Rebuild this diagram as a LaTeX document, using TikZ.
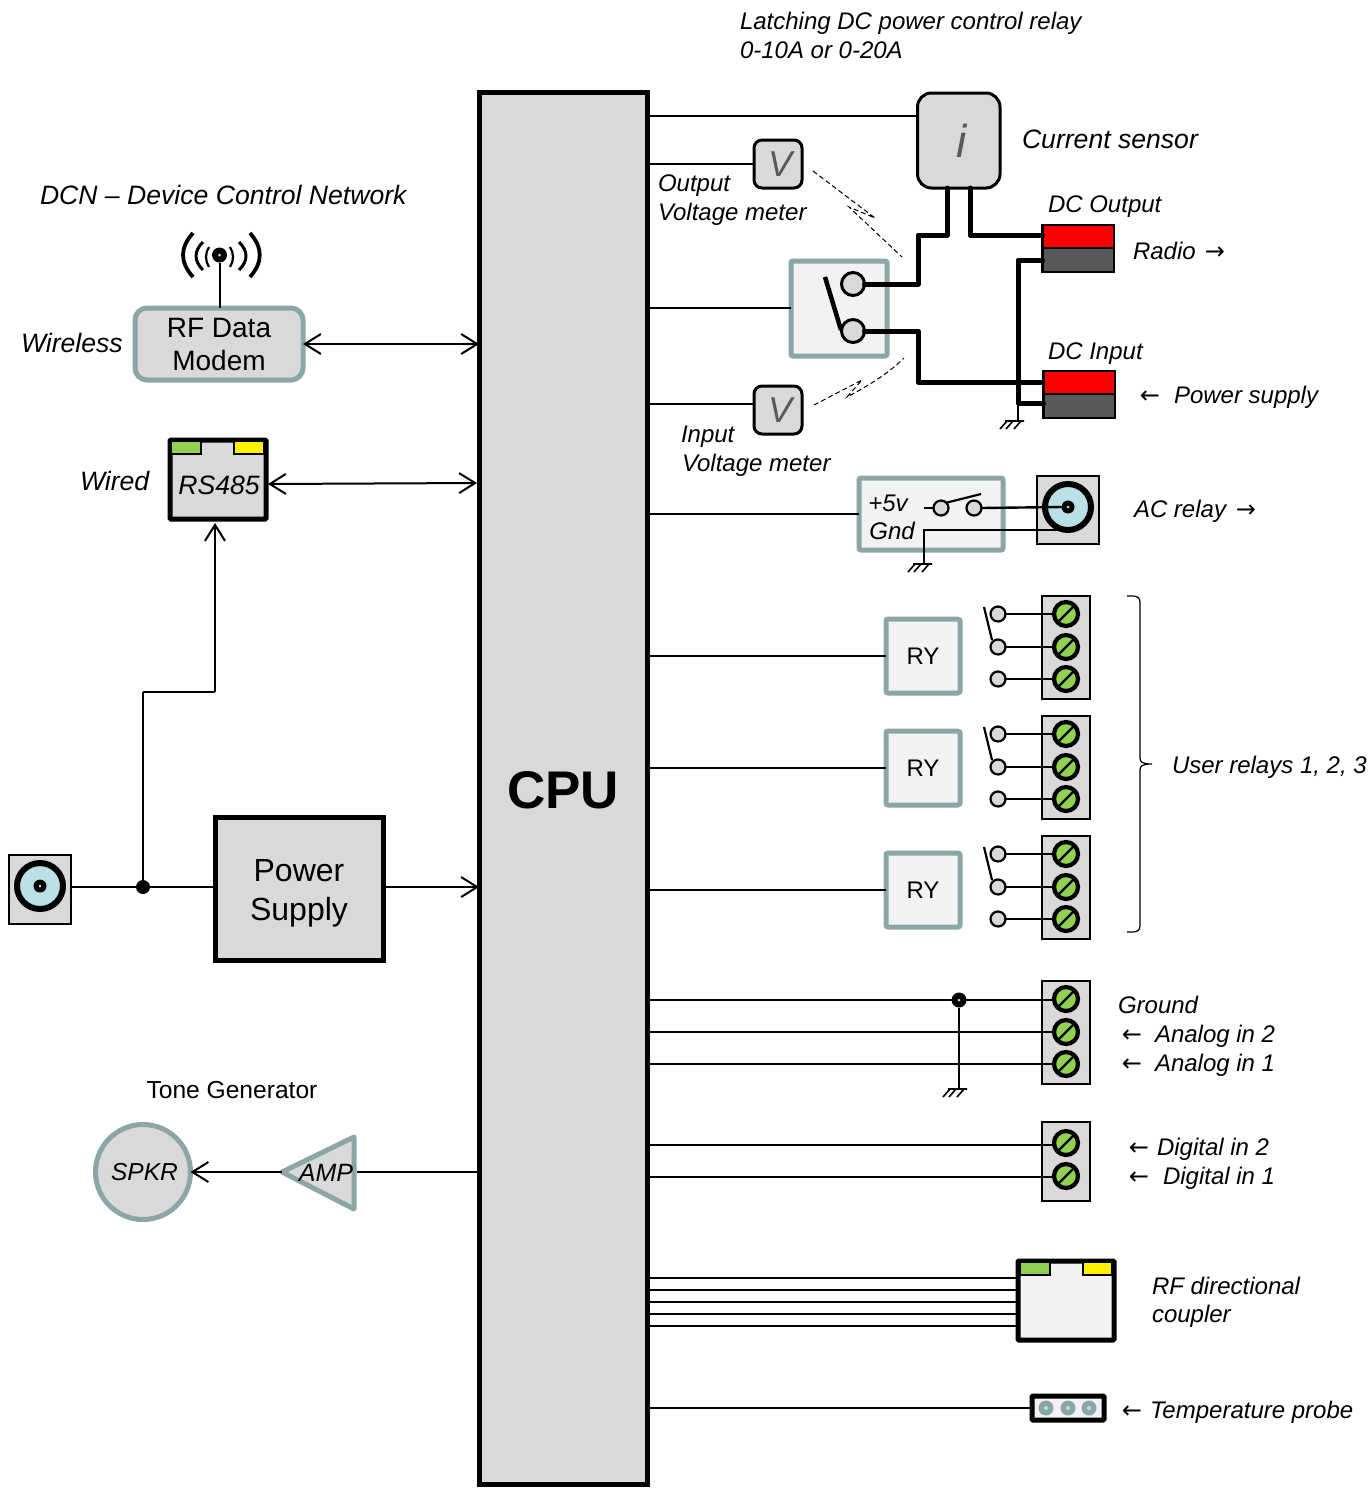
\documentclass[tikz,border=0pt]{standalone}
\usepackage{fontspec}
\setmainfont{Liberation Sans}
\newfontfamily\arrowfont{DejaVu Sans}
\usetikzlibrary{arrows.meta}
\definecolor{teal}{HTML}{8CA6A8}
\definecolor{lgray}{HTML}{F2F2F2}
\definecolor{mgray}{HTML}{D9D9D9}
\definecolor{dgray}{HTML}{595959}
\definecolor{lgreen}{HTML}{92D050}
\definecolor{lblue}{HTML}{B9E0E4}
\newcommand\fs[1]{\fontsize{#1}{#1}\selectfont}
\tikzset{
  every node/.style={inner sep=0pt,outer sep=0pt},
  wire/.style={line width=2pt,draw=black},
  fat/.style={line width=5pt,draw=black,line join=round,line cap=round},
  oarrow/.style={wire,-{Straight Barb[length=16pt,width=20pt,line width=2pt]}},
  biarrow/.style={wire,{Straight Barb[length=16pt,width=20pt,line width=2pt]}-{Straight Barb[length=16pt,width=20pt,line width=2pt]}},
  lab/.style={anchor=west,font=\fs{26.6}\itshape,text height=24pt,text depth=5pt},
  labs/.style={lab,font=\fs{24}\itshape,text height=22pt},
  glyph/.style={anchor=center,font=\fs{24}\arrowfont,text height=22pt,text depth=5pt},
  tealbox/.style={draw=teal,line width=5pt,fill=lgray,rounded corners=2pt},
  blackbox/.style={draw=black,line width=5pt,fill=mgray,rounded corners=1pt},
  thinbox/.style={draw=black,line width=2pt,fill=mgray},
  meter/.style={draw=black,line width=3pt,fill=mgray,rounded corners=8pt},
  screw/.style={circle,draw=black,line width=4.2pt,fill=lgreen,minimum size=24pt},
  contact/.style={circle,draw=black,line width=2.2pt,fill=mgray,minimum size=15pt},
  bigcontact/.style={circle,draw=black,line width=3pt,fill=mgray,minimum size=23pt},
  jack/.style={circle,draw=black,line width=6pt,fill=lblue,minimum size=46pt},
  jackpin/.style={circle,fill=black,minimum size=13pt},
  pinc/.style={circle,fill=lblue,minimum size=3pt},
  probe/.style={circle,fill=teal,minimum size=15pt},
  flash/.style={line width=1pt,dash pattern=on 5pt off 3pt},
}
\newcommand\rnode[7][]{\node[#1,minimum width={((#5)-(#3))*1pt},minimum height={((#6)-(#4))*1pt},align=center] (#2) at ({((#3)+(#5))/2},{((#4)+(#6))/2}) {#7};}
\newcommand\screwat[3]{\node[screw] (#1) at (#2,#3) {};\draw[line width=2.4pt] (#1.south west) -- (#1.north east);}
\newcommand\ground[3]{\coordinate (#1) at (#2,#3);
  \draw[line width=1.6pt] ([shift={(-11,0)}]#1) -- ([shift={(8,0)}]#1)
    ([shift={(-9,0)}]#1) -- ([shift={(-16,8)}]#1)
    ([shift={(-3,0)}]#1) -- ([shift={(-10,8)}]#1)
    ([shift={(5,0)}]#1) -- ([shift={(-2,8)}]#1);}
\newcommand\relaygroup[3]{%
  \rnode[tealbox,font=\fs{24}]{#1ry}{886}{#3-37}{960}{#3+37}{RY}
  \draw[wire] (#1ry.west) -- (#1ry.west -| cpu.east);
  \rnode[thinbox]{#1blk}{1042}{#2}{1090}{#2+103}{}
  \screwat{#1sa}{1066}{#2+18}
  \screwat{#1sb}{1066}{#2+51}
  \screwat{#1sc}{1066}{#2+83}
  \node[contact] (#1ca) at (998,#2+18) {};
  \node[contact] (#1cb) at (998,#2+51) {};
  \node[contact] (#1cc) at (998,#2+83) {};
  \draw[wire] (#1ca.east) -- (#1sa.west);
  \draw[wire] (#1cb.east) -- (#1sb.west);
  \draw[wire] (#1cc.east) -- (#1sc.west);
  \draw[line width=2.2pt] (984,#2+11) -- (992,#2+44);
}
\begin{document}
\begin{tikzpicture}[x=1pt,y=-1pt]
\useasboundingbox (0,0) rectangle (1369,1489);
% CPU
\rnode[draw=black,line width=5pt,fill=mgray,font=\fs{53}\bfseries]{cpu}{479}{92}{647}{1484}{\raisebox{-2pt}[\height][\depth]{CPU}}
% Left: modem
\rnode[tealbox,fill=mgray,rounded corners=12pt,font=\fs{28}]{modem}{135}{308}{303}{380}{RF Data\\[5pt]Modem}
\node[circle,fill=black,minimum size=15pt] (ant) at (219.5,255) {};
\node[pinc] (antc) at (ant) {};
\draw[line width=2pt] (ant) -- (ant |- modem.north);
\draw[line width=3.8pt] (193,233) .. controls (179.7,248) and (179.7,262) .. (193,277);
\draw[line width=3.8pt] (250,233) .. controls (263,248) and (263,262) .. (250,277);
\draw[line width=3pt] (203,242) .. controls (193.7,251) and (193.7,261) .. (203,270);
\draw[line width=3pt] (239,242) .. controls (248.3,251) and (248.3,261) .. (239,270);
\draw[line width=2.2pt] (209,247) .. controls (205,253) and (205,261) .. (209,267);
\draw[line width=2.2pt] (230,247) .. controls (234,253) and (234,261) .. (230,267);
\draw[biarrow] (modem.east) -- (modem.east -| cpu.west);
% RS485
\rnode[blackbox]{rs}{170}{440}{266}{519}{}
\node[font=\fs{26.6}\itshape] (rst) at (219,485) {RS485};
\rnode[draw=black,line width=2pt,fill=lgreen]{rsg}{171}{441}{201}{454}{}
\rnode[draw=black,line width=2pt,fill=yellow]{rsy}{234}{441}{264}{454}{}
\coordinate (rsa) at (268,484);
\coordinate (rsb) at (477,483);
\draw[biarrow] (rsa) -- (rsb);
% Power
\rnode[thinbox]{jbox}{9}{855}{71}{924}{}
\node[jack] (jl) at (40,886) {};
\node[jackpin] (jlp) at (jl) {};
\node[pinc] (jlc) at (jl) {};
\rnode[blackbox,rounded corners=0pt]{psu}{215}{817}{383}{960}{}
\node[font=\fs{32},align=center] (psut) at (299,893) {Power\\[7pt]Supply};
\coordinate (jle) at (71,887);
\node[circle,fill=black,minimum size=14pt] (jn) at (143,887) {};
\draw[wire] (jle) -- (jn) -- (jn -| psu.west);
\coordinate (rsup) at (215,523);
\coordinate (bend) at (215,692);
\draw[wire] (jn) -- (bend -| jn);
\draw[wire] (bend -| jn) -- (bend);
\draw[oarrow] (bend) -- (rsup);
\coordinate (psr) at (psu.east |- jn);
\draw[oarrow] (psr) -- (psr -| cpu.west);
% Speaker / amp
\node[circle,draw=teal,line width=5pt,fill=mgray,minimum size=95pt,font=\fs{24.5}\itshape] (spk) at (143,1172) {\hspace{3pt}SPKR};
\coordinate (ampt) at (282,1172);
\coordinate (ampa) at (354,1137);
\coordinate (ampb) at (354,1209);
\draw[teal,line width=5pt,fill=mgray,line join=round] (ampt) -- (ampa) -- (ampb) -- cycle;
\node[font=\fs{25}\itshape] (amp) at (326,1173) {AMP};
\draw[oarrow] (ampt) -- (ampt -| spk.east);
\coordinate (ampr) at (357,1172);
\draw[wire] (ampr) -- (ampr -| cpu.west);
% Current sensor
\rnode[meter,rounded corners=14pt,text=dgray,font=\fs{46}\itshape]{isens}{917.5}{93}{1000}{188}{\hspace{6pt}i}
\coordinate (ip) at (917.5,116);
\draw[wire] (ip) -- (ip -| cpu.east);
% V meters
\rnode[meter,text=dgray,font=\fs{36}\itshape]{vo}{754}{140}{802}{188}{\hspace{4pt}V}
\draw[wire] (vo.west) -- (vo.west -| cpu.east);
\rnode[meter,text=dgray,font=\fs{36}\itshape]{vi}{754}{386}{802}{434}{\hspace{4pt}V}
\coordinate (vip) at (754,404);
\draw[wire] (vip) -- (vip -| cpu.east);
% Flashes
\draw[flash] (813,171) -- (875,218) -- (849,207) -- (902,257);
\draw[flash] (814,405) -- (862,380) -- (847,397) .. controls (870,385) and (890,372) .. (904,358);
% Switch
\rnode[tealbox]{sw}{791}{261}{887}{356}{}
\coordinate (swl) at (791,308);
\draw[wire] (swl) -- (swl -| cpu.east);
\node[bigcontact] (ka) at (853,284) {};
\draw[line width=4.5pt] (825,277) -- (841,330);
\node[bigcontact] (kb) at (853,331) {};
% DC terminals
\rnode[draw=black,line width=2.5pt,fill=red]{dor}{1042.5}{225}{1114}{248}{}
\rnode[draw=black,line width=2.5pt,fill=dgray]{dog}{1042.5}{248}{1114}{272}{}
\rnode[draw=black,line width=2.5pt,fill=red]{dir}{1043.5}{371}{1115}{394}{}
\rnode[draw=black,line width=2.5pt,fill=dgray]{dig}{1043.5}{394}{1115}{418}{}
\coordinate (w1) at (947,188);
\coordinate (w2) at (970,188);
\coordinate (w3) at (918,235);
\coordinate (w4) at (918,331);
\coordinate (w5) at (1018,260);
\coordinate (w6) at (1018,403);
\draw[fat] (ka.east) -- (ka.east -| w3) -- (w3) -- (w3 -| w1) -- (w1);
\draw[fat] (w2) -- (w3 -| w2) -- (w3 -| dor.west);
\draw[fat] (kb.east) -- (w4) -- (918,382) -- (1043,382);
\draw[fat] (w5 -| dog.west) -- (w5) -- (w6) -- (w6 -| dig.west);
\ground{g1}{1016}{421}
\draw[wire] (w6) -- (g1 -| w6);
% AC relay
\rnode[tealbox]{ac}{859}{478}{1003}{550}{}
\rnode[thinbox]{acj}{1037}{476}{1099}{544}{}
\node[font=\fs{24}\itshape] (acp) at (888,503) {+5v};
\node[font=\fs{24}\itshape] (acg) at (892,531) {Gnd};
\node[contact] (aca) at (941,508) {};
\node[contact] (acb) at (974,508) {};
\draw[wire] (924,508) -- (aca.west);
\draw[line width=2.2pt] (aca.north east) -- (981,494);
\coordinate (gl) at (1060,530);
\ground{g2}{924}{564}
\draw[line width=2.4pt] (gl) -- (gl -| g2) -- (g2);
\node[jack] (jr) at (1068,507) {};
\node[jackpin] (jrp) at (jr) {};
\node[pinc] (jrc) at (jr) {};
\draw[line width=2.4pt] (acb.east) -- (jrp.west);
\draw[wire] (ac.west) -- (ac.west -| cpu.east);
% user relays
\relaygroup{a}{596}{656}
\relaygroup{b}{716}{768}
\relaygroup{c}{836}{890}
\draw[line width=1.2pt] (1127,596) -- (1133,596) .. controls (1137,596) and (1140,598) .. (1140,602) -- (1140,758) .. controls (1140,762) and (1142,764) .. (1152,764) .. controls (1142,764) and (1140,766) .. (1140,770) -- (1140,926) .. controls (1140,930) and (1137,932) .. (1133,932) -- (1127,932);
% analog
\rnode[thinbox]{an}{1042}{981}{1090}{1084}{}
\screwat{sg}{1066}{999}
\screwat{s2}{1066}{1032}
\screwat{s1}{1066}{1064}
\coordinate (lg) at (1053,1000);
\draw[wire] (lg) -- (lg -| cpu.east);
\draw[wire] (s2.west) -- (s2.west -| cpu.east);
\draw[wire] (s1.west) -- (s1.west -| cpu.east);
\node[circle,fill=black,minimum size=15pt] (jg) at (959,1000) {};
\node[pinc] (jgc) at (jg) {};
\ground{g3}{959}{1089}
\draw[wire] (jg) -- (g3);
% digital
\rnode[thinbox]{dg}{1042}{1122}{1090}{1201}{}
\screwat{d2}{1066}{1143}
\screwat{d1}{1066}{1176}
\coordinate (ld2) at (1053,1145);
\coordinate (ld1) at (1053,1177);
\draw[wire] (ld2) -- (ld2 -| cpu.east);
\draw[wire] (ld1) -- (ld1 -| cpu.east);
% coupler
\rnode[blackbox,fill=lgray]{rfc}{1018}{1261}{1114}{1340}{}
\rnode[draw=black,line width=2pt,fill=lgreen]{rfg}{1020}{1262}{1050}{1275}{}
\rnode[draw=black,line width=2pt,fill=yellow]{rfy}{1083}{1262}{1112}{1275}{}
\foreach \yy in {1278,1290,1302,1314,1326} {
  \coordinate (rfl) at (1017,\yy);
  \draw[wire] (rfl) -- (rfl -| cpu.east);
}
% temp probe
\rnode[blackbox,fill=lgray]{tp}{1032}{1396}{1104}{1420}{}
\draw[wire] (tp.west) -- (tp.west -| cpu.east);
\foreach \xx/\nn in {1046/a,1068/b,1089/c} {
  \node[probe] (tp\nn) at (\xx,1408) {};
  \node[pinc,minimum size=4pt] (tc\nn) at (tp\nn) {};
}
% labels
\node[labs] (t1) at (740,21) {Latching DC power control relay};
\node[labs] (t2) at (740,50) {0-10A or 0-20A};
\node[lab] (t3) at (1022,139) {Current sensor};
\node[labs] (t4) at (1048,204) {DC Output};
\node[labs] (t5) at (1133,251) {Radio};
\node[glyph] (t5a) at (1215,251) {→};
\node[labs] (t6) at (1048,351) {DC Input};
\node[glyph] (t6a) at (1150,395) {←};
\node[labs] (t7) at (1174,395) {Power supply};
\node[labs] (t8) at (1134,509) {AC relay};
\node[glyph] (t8a) at (1246,509) {→};
\node[labs] (t9) at (1172,765) {User relays 1, 2, 3};
\node[labs] (t10) at (1118,1005) {Ground};
\node[glyph] (t11a) at (1132,1034) {←};
\node[labs] (t11) at (1155,1034) {Analog in 2};
\node[glyph] (t12a) at (1132,1063) {←};
\node[labs] (t12) at (1155,1063) {Analog in 1};
\node[glyph] (t13a) at (1139,1147) {←};
\node[labs] (t13) at (1157,1147) {Digital in 2};
\node[glyph] (t14a) at (1139,1176) {←};
\node[labs] (t14) at (1163,1176) {Digital in 1};
\node[labs] (t15) at (1152,1286) {RF directional};
\node[labs] (t16) at (1152,1314) {coupler};
\node[glyph] (t17a) at (1132,1410) {←};
\node[labs] (t17) at (1150,1410) {Temperature probe};
\node[font=\fs{24.6}] (t18) at (232,1090) {Tone Generator};
\node[lab] (t19) at (40,195) {DCN -- Device Control Network};
\node[lab] (t20) at (21,343) {Wireless};
\node[lab] (t21) at (80,481) {Wired};
\node[labs] (t22) at (658,183) {Output};
\node[labs] (t23) at (658,212) {Voltage meter};
\node[labs] (t24) at (681,434) {Input};
\node[labs] (t25) at (682,463) {Voltage meter};
\end{tikzpicture}
\end{document}
